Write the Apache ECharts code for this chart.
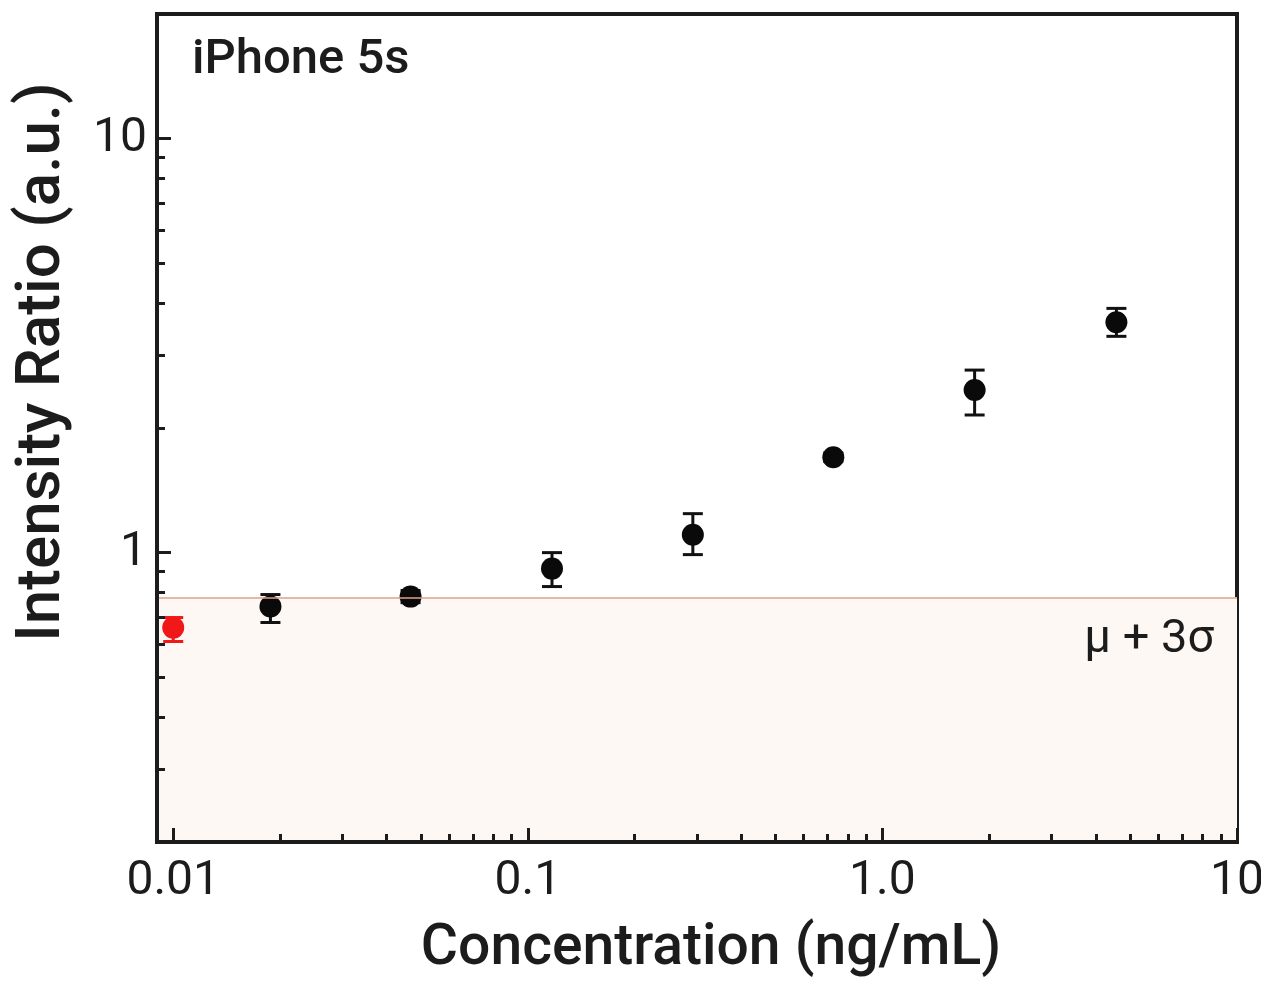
<!DOCTYPE html>
<html>
<head>
<meta charset="utf-8">
<script src="https://cdn.jsdelivr.net/npm/echarts@6/dist/echarts.min.js"></script>
<style>
  html, body { margin: 0; padding: 0; background: #fff; }
  #chart { width: 1261px; height: 985px; }
</style>
</head>
<body>
<div id="chart"></div>
<script>
// blank sample (red) - concentration in ng/mL, ratio in a.u.
const concRed = [0.01];
const ratioRed = [0.659];
const lowRed = [0.61];
const highRed = [0.697];

// dilution series (black)
const conc = [0.0188, 0.0467, 0.117, 0.292, 0.727, 1.82, 4.57];
const ratio = [0.741, 0.783, 0.915, 1.105, 1.70, 2.47, 3.60];
const low = [0.678, 0.757, 0.828, 0.989, 1.66, 2.15, 3.33];
const high = [0.792, 0.81, 1.0, 1.242, 1.74, 2.76, 3.89];

// mu + 3 sigma
const threshold = 0.78;

const xMajor = [0.01, 0.1, 1, 10];
const xMajorLabels = ["0.01", "0.1", "1.0", "10"];
const xMinor = [0.02, 0.03, 0.04, 0.05, 0.06, 0.07, 0.08, 0.09,
  0.2, 0.3, 0.4, 0.5, 0.6, 0.7, 0.8, 0.9, 2, 3, 4, 5, 6, 7, 8, 9];
const yMajor = [1, 10];
const yMajorLabels = ["1", "10"];
const yMinor = [0.3, 0.4, 0.5, 0.6, 0.7, 0.8, 0.9, 2, 3, 4, 5, 6, 7, 8, 9];

const ink = "#1c1c1c";

function pickLabel(values, labels) {
  return function (v) {
    for (let i = 0; i < values.length; i++) {
      if (Math.abs(Math.log10(v) - Math.log10(values[i])) < 1e-6) return labels[i];
    }
    return "";
  };
}

function errorBar(color) {
  return function (params, api) {
    const x = api.value(0);
    const lo = api.coord([x, api.value(1)]);
    const hi = api.coord([x, api.value(2)]);
    const hw = 10;
    const style = { stroke: color, lineWidth: 3 };
    return {
      type: "group",
      children: [
        { type: "line", shape: { x1: lo[0], y1: lo[1], x2: hi[0], y2: hi[1] }, style: style },
        { type: "line", shape: { x1: hi[0] - hw, y1: hi[1], x2: hi[0] + hw, y2: hi[1] }, style: style },
        { type: "line", shape: { x1: lo[0] - hw, y1: lo[1], x2: lo[0] + hw, y2: lo[1] }, style: style }
      ]
    };
  };
}

const xRange = { min: 0.009, max: 10 };
const yRange = { min: 0.2, max: 20 };

const chart = echarts.init(document.getElementById("chart"));

chart.setOption({
  animation: false,
  backgroundColor: "#fff",
  grid: {
    left: 157, right: 24, top: 14, bottom: 143,
    containLabel: false,
    outerBoundsMode: "none",
    show: true,
    borderColor: ink,
    borderWidth: 4
  },
  xAxis: [
    {
      type: "log", logBase: 10, min: xRange.min, max: xRange.max, z: 10,
      axisLine: { show: true, lineStyle: { color: ink, width: 4 } },
      splitLine: { show: false },
      minorTick: { show: false },
      axisTick: { inside: true, length: 14, customValues: xMajor, lineStyle: { color: ink, width: 3 } },
      axisLabel: {
        customValues: xMajor, margin: 16, fontSize: 48, color: ink, fontFamily: "Roboto",
        formatter: pickLabel(xMajor, xMajorLabels)
      }
    },
    {
      type: "log", logBase: 10, min: xRange.min, max: xRange.max, position: "bottom", z: 10,
      axisLine: { show: false },
      splitLine: { show: false },
      axisLabel: { show: false },
      axisTick: { inside: true, length: 8, customValues: xMinor, lineStyle: { color: ink, width: 3 } }
    }
  ],
  yAxis: [
    {
      type: "log", logBase: 10, min: yRange.min, max: yRange.max, z: 10,
      axisLine: { show: true, lineStyle: { color: ink, width: 4 } },
      splitLine: { show: false },
      minorTick: { show: false },
      axisTick: { inside: true, length: 14, customValues: yMajor, lineStyle: { color: ink, width: 3 } },
      axisLabel: {
        customValues: yMajor, margin: 10, fontSize: 48, color: ink, fontFamily: "Roboto",
        formatter: pickLabel(yMajor, yMajorLabels)
      }
    },
    {
      type: "log", logBase: 10, min: yRange.min, max: yRange.max, position: "left", z: 10,
      axisLine: { show: false },
      splitLine: { show: false },
      axisLabel: { show: false },
      axisTick: { inside: true, length: 8, customValues: yMinor, lineStyle: { color: ink, width: 3 } }
    }
  ],
  series: [
    {
      // background band below the detection threshold
      type: "scatter",
      data: [],
      z: 1,
      silent: true,
      markArea: {
        silent: true,
        itemStyle: { color: "#fdf8f4" },
        data: [[{ yAxis: yRange.min }, { yAxis: threshold }]]
      },
      markLine: {
        silent: true,
        symbol: "none",
        label: { show: false },
        lineStyle: { color: "#e0a091", width: 1.5, type: "solid" },
        data: [{ yAxis: threshold }]
      }
    },
    {
      type: "custom",
      z: 3,
      renderItem: errorBar("#111"),
      encode: { x: 0, y: [1, 2] },
      data: conc.map((c, i) => [c, low[i], high[i]])
    },
    {
      type: "custom",
      z: 3,
      renderItem: errorBar("#f01818"),
      encode: { x: 0, y: [1, 2] },
      data: concRed.map((c, i) => [c, lowRed[i], highRed[i]])
    },
    {
      type: "scatter",
      z: 4,
      symbolSize: 22,
      itemStyle: { color: "#0a0a0a", opacity: 1 },
      data: conc.map((c, i) => [c, ratio[i]])
    },
    {
      type: "scatter",
      z: 4,
      symbolSize: 22,
      itemStyle: { color: "#f01818", opacity: 1 },
      data: concRed.map((c, i) => [c, ratioRed[i]])
    }
  ],
  graphic: [
    {
      type: "text", x: 192, y: 61, z: 100,
      style: { text: "iPhone 5s", font: "500 49px Roboto", fill: ink, verticalAlign: "middle" }
    },
    {
      type: "text", x: 1214, y: 640, z: 100,
      style: { text: "\u03bc + 3\u03c3", font: "400 47px Roboto", fill: ink, align: "right", verticalAlign: "middle" }
    },
    {
      type: "text", x: 711, y: 950, z: 100,
      style: { text: "Concentration (ng/mL)", font: "500 57px Roboto", fill: ink, align: "center", verticalAlign: "middle" }
    },
    {
      type: "text", x: 43, y: 362, rotation: Math.PI / 2, z: 100,
      style: { text: "Intensity Ratio (a.u.)", font: "500 62px Roboto", fill: ink, align: "center", verticalAlign: "middle" }
    }
  ]
});
</script>
</body>
</html>
